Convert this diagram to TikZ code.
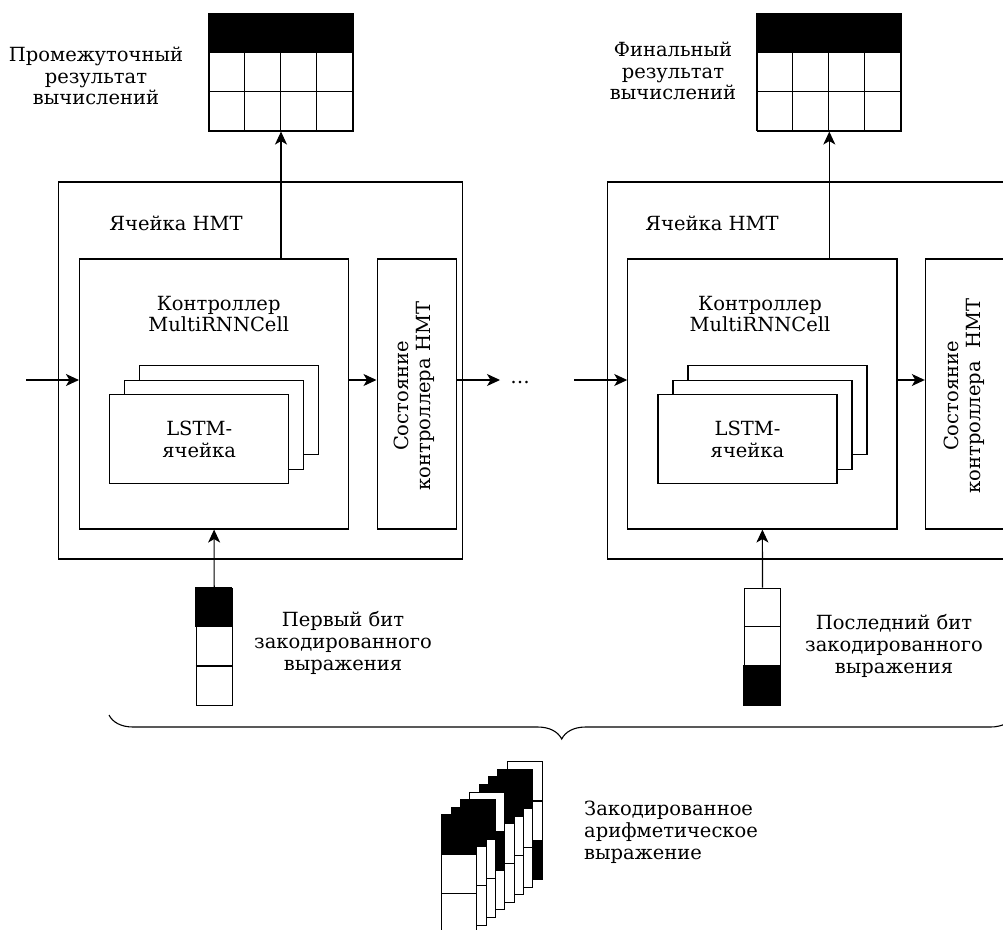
\documentclass[tikz,border=0pt]{standalone}
\usepackage{fontspec}
\setmainfont{DejaVu Serif}
\usetikzlibrary{positioning, arrows.meta, decorations.pathreplacing}

\tikzset{
  box/.style={draw, line width=1.1pt, fill=white, inner sep=0pt},
  lbl/.style={align=center, inner sep=0pt, font=\fontsize{19.5}{21.8}\selectfont},
  conn/.style={line width=1.1pt, -{Stealth[length=13pt, width=12pt, inset=3.5pt]}},
  lstm/.style={box, minimum width=179pt, minimum height=89pt},
}

\begin{document}
\begin{tikzpicture}[x=1pt, y=-1pt, node distance=548.3pt, on grid]
\clip (0,0) rectangle (1003,929);

% first cell
\node (hmt1) [box, minimum width=403.3pt, minimum height=377pt] at (260.4,370.5) {};
\node (ctrl1) [box, minimum width=269.2pt, minimum height=270pt] at (214.1,394) {};
\node (state1) [box, minimum width=79.3pt, minimum height=270pt] at (416.7,394) {};
\node (lstm1c) [lstm] at (229.2,409.7) {};
\node (lstm1b) [lstm] at (214.2,424.7) {};
\node (lstm1a) [lstm, lbl] at (199.2,439.4) {LSTM-\\ячейка};
\node (ttl1) [lbl] at (176,223) {Ячейка НМТ};
\node (cap1) [lbl] at (218.7,314) {Контроллер\\MultiRNNCell};
\node (st1) [lbl, rotate=90] at (414,396) {Состояние\\контроллера НМТ};

% last cell
\node (hmt2) [box, minimum width=403.3pt, minimum height=377pt, right=of hmt1] {};
\node (ctrl2) [box, minimum width=269.2pt, minimum height=270pt, right=of ctrl1] {};
\node (state2) [box, minimum width=79.3pt, minimum height=270pt, right=of state1] {};
\node (lstm2c) [lstm, right=of lstm1c] {};
\node (lstm2b) [lstm, right=of lstm1b] {};
\node (lstm2a) [lstm, lbl, right=of lstm1a] {LSTM-\\ячейка};
\node (ttl2) [lbl] at (712,223) {Ячейка НМТ};
\node (cap2) [lbl] at (760,314) {Контроллер\\MultiRNNCell};
\node (st2) [lbl, rotate=90] at (964,396) {Состояние\\контроллера~~НМТ};

% results
\node (out1) [box, minimum width=144pt, minimum height=117pt] at (281,72.5) {};
\node (out2) [box, minimum width=144pt, minimum height=117pt, right=of out1] {};
\foreach \g in {out1, out2} {
  \filldraw[line width=1.1pt, shift={(\g.north west)}] (0,0) rectangle (144,39);
  \foreach \c in {0,...,3}
    \foreach \r in {1,2}
      \draw[line width=1.1pt, shift={(\g.north west)}] (\c*36,\r*39) rectangle ++(36,39);
}
\node (res1) [lbl] at (96,76) {Промежуточный\\результат\\вычислений};
\node (res2) [lbl] at (673,71) {Финальный\\результат\\вычислений};

% input bits
\node (bit1) [box, minimum width=36.3pt, minimum height=117.7pt] at (214.2,646.9) {};
\node (bit2) [box, minimum width=36.3pt, minimum height=117.7pt, right=of bit1] {};
\filldraw[line width=1.1pt, shift={(bit1.north west)}] (0,0) rectangle (36.3,39.2);
\filldraw[line width=1.1pt, shift={(bit2.north west)}] (0,78.5) rectangle (36.3,117.7);
\foreach \g in {bit1, bit2}
  \draw[line width=1.1pt, shift={(\g.north west)}] (0,39.2) -- (36.3,39.2) (0,78.5) -- (36.3,78.5);
\node (bl1) [lbl] at (343,643) {Первый бит\\закодированного\\выражения};
\node (bl2) [lbl] at (894,646) {Последний бит\\закодированного\\выражения};

% connectors
\coordinate (in1) at (26,380);
\coordinate (gap1) at (500,380);
\coordinate (in2) at (574,380);
\node (dots) [lbl] at (520,382) {\dots};
\draw[conn] (in1) -- (in1 -| ctrl1.west);
\draw[conn] (in1 -| ctrl1.east) -- (in1 -| state1.west);
\draw[conn] (in1 -| state1.east) -- (gap1);
\draw[conn] (in2) -- (in2 -| ctrl2.west);
\draw[conn] (in2 -| ctrl2.east) -- (in2 -| state2.west);
\draw[conn] (out1.south |- ctrl1.north) -- (out1.south);
\draw[conn] (out2.south |- ctrl2.north) -- (out2.south);
\draw[conn] (bit1.north) -- (ctrl1.south);
\draw[conn] (bit2.north) -- (ctrl2.south);

% brace and whole expression
\coordinate (brL) at (109,715);
\coordinate (brR) at (1014.4,715);
\draw[line width=1.1pt, decorate, decoration={brace, amplitude=24pt, mirror}] (brL) -- (brR);
\foreach \i/\b in {7/3, 6/1, 5/1, 4/1, 3/2, 2/1, 1/1, 0/1} {
  \begin{scope}[shift={(441.7+9.37*\i, 815-7.6*\i)}, line width=1.1pt]
    \filldraw[fill=white] (0,0) rectangle (35,117.7);
    \fill (0,{(\b-1)*39.2}) rectangle (35,{\b*39.2});
    \draw (0,39.2) -- (35,39.2) (0,78.5) -- (35,78.5) (0,0) rectangle (35,117.7);
  \end{scope}
}
\node (expr) [lbl, align=left, anchor=west] at (584,832) {Закодированное\\арифметическое\\выражение};
\end{tikzpicture}
\end{document}
